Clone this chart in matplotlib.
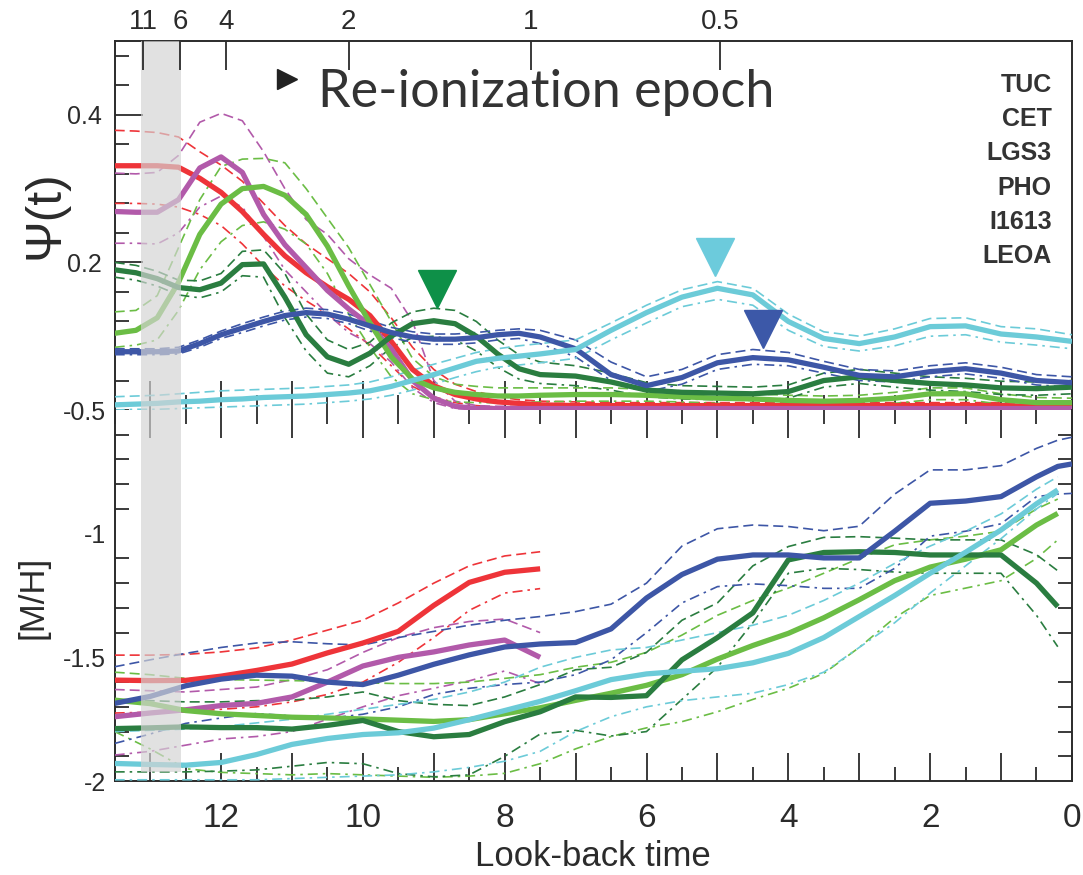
import matplotlib
matplotlib.use("Agg")
import matplotlib.pyplot as plt
from matplotlib.ticker import MultipleLocator, FixedLocator, FuncFormatter, NullLocator

plt.rcParams['font.family'] = ['Liberation Sans', 'DejaVu Sans']
plt.rcParams['axes.unicode_minus'] = False

# ---------------- data ----------------
names = ["TUC", "CET", "LGS3", "PHO", "I1613", "LEOA"]
colors = ['#ee3439', '#b25aaa', '#6bbd45', '#2a7d40', '#3d56a6', '#6ccbd8']

# redshift axis on top
z_label = ["11", "6", "4", "2", "1", "0.5"]
z_time = [13.1, 12.58, 11.93, 10.2, 7.63, 4.96]

# re-ionization band (look-back time, Gyr)
band_lo, band_hi = 12.565, 13.13

# grid of look-back time for Psi(t)
T_psi = [13.5, 13.2, 12.9, 12.6, 12.3, 12.0, 11.7, 11.4, 11.1, 10.8, 10.5,
         10.2, 9.9, 9.6, 9.3, 9.0, 8.7, 8.4, 8.1, 7.8, 7.5,
         7.0, 6.5, 6.0, 5.5, 5.0, 4.5, 4.0, 3.5, 3.0, 2.5, 2.0, 1.5, 1.0, 0.5, 0.0]

psi_tuc = [0.331, 0.331, 0.331, 0.329, 0.314, 0.295, 0.269, 0.238, 0.209, 0.186, 0.167,
           0.150, 0.128, 0.093, 0.055, 0.033, 0.021, 0.015, 0.011, 0.009, 0.007,
           0.006, 0.006, 0.006, 0.006, 0.006, 0.006, 0.006, 0.006, 0.006, 0.006, 0.006, 0.006, 0.006, 0.005, 0.005]
psi_tuc_hi = [0.379, 0.378, 0.376, 0.370, 0.350, 0.332, 0.310, 0.280, 0.250, 0.225, 0.205,
              0.185, 0.160, 0.125, 0.085, 0.055, 0.035, 0.025, 0.018, 0.014, 0.012,
              0.011, 0.010, 0.010, 0.010, 0.010, 0.010, 0.010, 0.010, 0.010, 0.010, 0.010, 0.010, 0.010, 0.009, 0.009]
psi_tuc_lo = [0.280, 0.280, 0.279, 0.275, 0.265, 0.250, 0.225, 0.195, 0.168, 0.148, 0.130,
              0.110, 0.088, 0.060, 0.032, 0.018, 0.010, 0.006, 0.004, 0.003, 0.002,
              0.002, 0.002, 0.002, 0.002, 0.002, 0.002, 0.002, 0.002, 0.002, 0.002, 0.002, 0.002, 0.002, 0.002, 0.002]

psi_cet = [0.269, 0.268, 0.268, 0.285, 0.328, 0.343, 0.322, 0.265, 0.224, 0.193, 0.162,
           0.137, 0.115, 0.083, 0.040, 0.016, 0.005, 0.002, 0.002, 0.002, 0.002,
           0.002, 0.002, 0.002, 0.002, 0.002, 0.002, 0.002, 0.002, 0.002, 0.002, 0.002, 0.002, 0.002, 0.002, 0.002]
psi_cet_hi = [0.321, 0.320, 0.322, 0.345, 0.390, 0.402, 0.392, 0.350, 0.300, 0.258, 0.238,
              0.205, 0.183, 0.165, 0.120, 0.040, 0.012, 0.006, 0.005, 0.005, 0.005,
              0.005, 0.005, 0.005, 0.005, 0.005, 0.005, 0.005, 0.005, 0.005, 0.005, 0.005, 0.005, 0.005, 0.005, 0.005]
psi_cet_lo = [0.226, 0.226, 0.225, 0.240, 0.275, 0.290, 0.275, 0.235, 0.190, 0.160, 0.130,
              0.105, 0.090, 0.065, 0.030, 0.010, 0.002, 0.001, 0.001, 0.001, 0.001,
              0.001, 0.001, 0.001, 0.001, 0.001, 0.001, 0.001, 0.001, 0.001, 0.001, 0.001, 0.001, 0.001, 0.001, 0.001]

psi_lgs3 = [0.104, 0.108, 0.125, 0.173, 0.238, 0.279, 0.300, 0.303, 0.291, 0.265, 0.222,
            0.168, 0.118, 0.072, 0.042, 0.030, 0.024, 0.021, 0.019, 0.019, 0.020,
            0.021, 0.021, 0.020, 0.018, 0.016, 0.015, 0.013, 0.012, 0.013, 0.016, 0.022, 0.022, 0.014, 0.010, 0.010]
psi_lgs3_hi = [0.133, 0.135, 0.155, 0.220, 0.285, 0.330, 0.340, 0.341, 0.335, 0.300, 0.260,
               0.220, 0.170, 0.120, 0.070, 0.045, 0.035, 0.032, 0.030, 0.030, 0.030,
               0.030, 0.030, 0.028, 0.026, 0.024, 0.022, 0.020, 0.019, 0.020, 0.024, 0.030, 0.030, 0.022, 0.017, 0.016]
psi_lgs3_lo = [0.085, 0.088, 0.095, 0.135, 0.190, 0.228, 0.250, 0.255, 0.245, 0.225, 0.185,
               0.130, 0.085, 0.045, 0.022, 0.014, 0.011, 0.010, 0.010, 0.010, 0.011,
               0.012, 0.012, 0.012, 0.011, 0.009, 0.008, 0.007, 0.006, 0.007, 0.009, 0.014, 0.014, 0.008, 0.005, 0.005]

psi_pho = [0.190, 0.186, 0.178, 0.166, 0.163, 0.172, 0.197, 0.198, 0.153, 0.102, 0.072,
           0.062, 0.077, 0.100, 0.117, 0.121, 0.117, 0.100, 0.076, 0.056, 0.048,
           0.046, 0.038, 0.027, 0.024, 0.023, 0.022, 0.025, 0.040, 0.045, 0.040, 0.036, 0.034, 0.030, 0.029, 0.031]
psi_pho_hi = [0.200, 0.196, 0.188, 0.176, 0.175, 0.185, 0.215, 0.217, 0.185, 0.130, 0.095,
              0.082, 0.092, 0.118, 0.133, 0.138, 0.135, 0.120, 0.095, 0.075, 0.065,
              0.060, 0.050, 0.037, 0.033, 0.032, 0.031, 0.034, 0.050, 0.055, 0.050, 0.045, 0.043, 0.039, 0.038, 0.040]
psi_pho_lo = [0.180, 0.176, 0.168, 0.156, 0.152, 0.160, 0.182, 0.180, 0.125, 0.080, 0.050,
              0.045, 0.060, 0.085, 0.098, 0.100, 0.095, 0.080, 0.058, 0.042, 0.036,
              0.033, 0.027, 0.018, 0.015, 0.014, 0.013, 0.016, 0.031, 0.036, 0.031, 0.027, 0.025, 0.021, 0.020, 0.022]

psi_i1613 = [0.079, 0.079, 0.079, 0.080, 0.090, 0.102, 0.111, 0.120, 0.128, 0.132, 0.130,
             0.123, 0.114, 0.105, 0.099, 0.096, 0.096, 0.098, 0.102, 0.104, 0.099,
             0.083, 0.048, 0.033, 0.044, 0.064, 0.071, 0.068, 0.058, 0.047, 0.045, 0.052, 0.056, 0.050, 0.040, 0.037]
psi_i1613_hi = [0.083, 0.083, 0.083, 0.085, 0.095, 0.107, 0.117, 0.126, 0.134, 0.138, 0.136,
                0.130, 0.121, 0.112, 0.106, 0.103, 0.103, 0.105, 0.108, 0.110, 0.108,
                0.095, 0.065, 0.045, 0.055, 0.075, 0.082, 0.078, 0.066, 0.055, 0.053, 0.060, 0.064, 0.058, 0.048, 0.045]
psi_i1613_lo = [0.075, 0.075, 0.075, 0.076, 0.085, 0.097, 0.105, 0.114, 0.122, 0.126, 0.124,
                0.117, 0.107, 0.098, 0.092, 0.089, 0.089, 0.091, 0.095, 0.097, 0.090,
                0.072, 0.040, 0.025, 0.035, 0.055, 0.062, 0.060, 0.050, 0.040, 0.038, 0.045, 0.049, 0.043, 0.034, 0.031]

psi_leoa = [0.007, 0.008, 0.009, 0.011, 0.012, 0.014, 0.015, 0.017, 0.018, 0.019, 0.021,
            0.023, 0.026, 0.032, 0.040, 0.048, 0.057, 0.066, 0.070, 0.073, 0.076,
            0.082, 0.108, 0.132, 0.153, 0.165, 0.156, 0.120, 0.097, 0.090, 0.099, 0.113, 0.114, 0.103, 0.099, 0.093]
psi_leoa_hi = [0.018, 0.019, 0.020, 0.022, 0.024, 0.026, 0.027, 0.028, 0.029, 0.030, 0.032,
               0.034, 0.038, 0.045, 0.054, 0.062, 0.070, 0.078, 0.083, 0.087, 0.090,
               0.095, 0.118, 0.142, 0.163, 0.174, 0.165, 0.130, 0.106, 0.100, 0.110, 0.124, 0.125, 0.113, 0.110, 0.102]
psi_leoa_lo = [0.000, 0.001, 0.001, 0.002, 0.003, 0.004, 0.005, 0.006, 0.007, 0.008, 0.010,
               0.012, 0.015, 0.020, 0.027, 0.035, 0.044, 0.052, 0.058, 0.061, 0.064,
               0.070, 0.095, 0.118, 0.140, 0.150, 0.142, 0.108, 0.086, 0.080, 0.087, 0.100, 0.102, 0.092, 0.088, 0.083]

# triangles marking the SFR peaks (PHO, LEOA, I1613)
peak_t = [8.95, 5.03, 4.36]
peak_psi = [0.164, 0.208, 0.110]
peak_col = ['#0e9048', '#6ccbdc', '#3c58a8']

# grid of look-back time for [M/H]
T_mh = [13.5, 13.0, 12.5, 12.0, 11.5, 11.0, 10.5, 10.0, 9.5, 9.0, 8.5, 8.0, 7.5,
        7.0, 6.5, 6.0, 5.5, 5.0, 4.5, 4.0, 3.5, 3.0, 2.5, 2.0, 1.5, 1.0, 0.5, 0.2, 0.0]

mh_tuc = [-1.592, -1.594, -1.593, -1.576, -1.553, -1.527, -1.482, -1.442, -1.395, -1.290, -1.197, -1.156, -1.142]
mh_tuc_hi = [-1.491, -1.491, -1.488, -1.478, -1.462, -1.430, -1.390, -1.350, -1.280, -1.200, -1.130, -1.090, -1.073]
mh_tuc_lo = [-1.725, -1.722, -1.720, -1.710, -1.700, -1.680, -1.650, -1.600, -1.520, -1.420, -1.310, -1.240, -1.222]

mh_cet = [-1.740, -1.725, -1.712, -1.695, -1.686, -1.660, -1.600, -1.535, -1.500, -1.478, -1.450, -1.430, -1.500]
mh_cet_hi = [-1.630, -1.635, -1.640, -1.630, -1.620, -1.590, -1.550, -1.480, -1.420, -1.380, -1.355, -1.345, -1.400]
mh_cet_lo = [-1.895, -1.880, -1.855, -1.830, -1.820, -1.800, -1.750, -1.700, -1.655, -1.625, -1.595, -1.555, -1.606]

mh_lgs3 = [-1.673, -1.687, -1.715, -1.728, -1.735, -1.742, -1.745, -1.749, -1.754, -1.759, -1.752, -1.728, -1.704,
           -1.674, -1.645, -1.613, -1.570, -1.507, -1.452, -1.403, -1.340, -1.267, -1.190, -1.135, -1.103, -1.065, -0.965, -0.918]
mh_lgs3_hi = [-1.560, -1.570, -1.585, -1.590, -1.592, -1.594, -1.597, -1.603, -1.606, -1.606, -1.600, -1.585, -1.570,
              -1.540, -1.520, -1.480, -1.410, -1.330, -1.270, -1.220, -1.160, -1.100, -1.045, -1.025, -1.010, -0.990, -0.900, -0.860]
mh_lgs3_lo = [-1.800, -1.870, -1.950, -1.965, -1.970, -1.975, -1.970, -1.975, -1.980, -1.985, -1.980, -1.969, -1.930,
              -1.870, -1.820, -1.785, -1.760, -1.720, -1.670, -1.625, -1.565, -1.460, -1.340, -1.250, -1.220, -1.190, -1.100, -1.025]

mh_pho = [-1.788, -1.785, -1.781, -1.784, -1.784, -1.790, -1.775, -1.755, -1.800, -1.821, -1.812, -1.760, -1.720,
          -1.660, -1.662, -1.655, -1.510, -1.420, -1.320, -1.106, -1.076, -1.073, -1.076, -1.086, -1.086, -1.086, -1.200, -1.295]
mh_pho_hi = [-1.673, -1.675, -1.680, -1.680, -1.675, -1.673, -1.660, -1.640, -1.675, -1.690, -1.695, -1.660, -1.610,
             -1.550, -1.540, -1.480, -1.350, -1.280, -1.130, -1.052, -1.015, -1.012, -1.018, -1.025, -1.025, -1.025, -1.085, -1.150]
mh_pho_lo = [-1.963, -1.963, -1.963, -1.960, -1.955, -1.940, -1.925, -1.930, -1.970, -1.983, -1.975, -1.900, -1.810,
             -1.795, -1.818, -1.800, -1.670, -1.540, -1.360, -1.160, -1.140, -1.145, -1.155, -1.160, -1.160, -1.160, -1.330, -1.457]

mh_i1613 = [-1.686, -1.658, -1.615, -1.588, -1.572, -1.576, -1.600, -1.610, -1.572, -1.528, -1.490, -1.458, -1.446,
            -1.440, -1.385, -1.260, -1.165, -1.103, -1.086, -1.086, -1.098, -1.098, -0.990, -0.877, -0.868, -0.850, -0.770, -0.728, -0.718]
mh_i1613_hi = [-1.538, -1.510, -1.484, -1.460, -1.442, -1.437, -1.445, -1.450, -1.420, -1.395, -1.370, -1.350, -1.335,
               -1.315, -1.285, -1.200, -1.050, -0.980, -0.965, -0.971, -0.988, -0.970, -0.840, -0.742, -0.742, -0.725, -0.655, -0.622, -0.610]
mh_i1613_lo = [-1.848, -1.810, -1.767, -1.745, -1.727, -1.737, -1.747, -1.730, -1.700, -1.650, -1.625, -1.610, -1.600,
               -1.570, -1.510, -1.400, -1.280, -1.214, -1.203, -1.210, -1.221, -1.221, -1.140, -1.010, -0.990, -0.960, -0.850, -0.840, -0.837]

mh_leoa = [-1.929, -1.933, -1.936, -1.925, -1.893, -1.852, -1.828, -1.812, -1.805, -1.786, -1.752, -1.715, -1.678,
           -1.635, -1.590, -1.567, -1.556, -1.546, -1.522, -1.484, -1.420, -1.335, -1.250, -1.160, -1.075, -0.985, -0.879, -0.823]
mh_leoa_hi = [-1.800, -1.795, -1.790, -1.780, -1.765, -1.750, -1.730, -1.710, -1.690, -1.670, -1.640, -1.600, -1.540,
              -1.500, -1.470, -1.460, -1.430, -1.400, -1.370, -1.330, -1.270, -1.200, -1.120, -1.050, -0.990, -0.920, -0.820, -0.770]
mh_leoa_lo = [-1.995, -1.995, -1.995, -1.995, -1.995, -1.990, -1.985, -1.980, -1.975, -1.963, -1.945, -1.920, -1.880,
              -1.800, -1.740, -1.700, -1.675, -1.660, -1.645, -1.610, -1.560, -1.460, -1.360, -1.240, -1.130, -1.020, -0.900, -0.837]

psi_sets = [(psi_tuc, psi_tuc_hi, psi_tuc_lo), (psi_cet, psi_cet_hi, psi_cet_lo),
            (psi_lgs3, psi_lgs3_hi, psi_lgs3_lo), (psi_pho, psi_pho_hi, psi_pho_lo),
            (psi_i1613, psi_i1613_hi, psi_i1613_lo), (psi_leoa, psi_leoa_hi, psi_leoa_lo)]
mh_sets = [(mh_tuc, mh_tuc_hi, mh_tuc_lo), (mh_cet, mh_cet_hi, mh_cet_lo),
           (mh_lgs3, mh_lgs3_hi, mh_lgs3_lo), (mh_pho, mh_pho_hi, mh_pho_lo),
           (mh_i1613, mh_i1613_hi, mh_i1613_lo), (mh_leoa, mh_leoa_hi, mh_leoa_lo)]

# ---------------- figure ----------------
ink = '#2b2b2b'
fig = plt.figure(figsize=(10.83, 8.75), dpi=100)
ax1 = fig.add_axes([0.1059, 0.5314, 0.8839, 0.4217])
ax2 = fig.add_axes([0.1059, 0.1074, 0.8839, 0.4240])


def draw(ax, t, mean, hi, lo, col):
    n = len(mean)
    ax.plot(t[:n], hi, color=col, lw=1.2, ls=(0, (6, 3)), zorder=3)
    ax.plot(t[:n], lo, color=col, lw=1.2, ls=(0, (6, 3, 1.5, 3)), zorder=3)
    ax.plot(t[:n], mean, color=col, lw=3.8, solid_capstyle='butt',
            solid_joinstyle='round', zorder=5)


for (m, h, l), c in zip(psi_sets, colors):
    draw(ax1, T_psi, m, h, l, c)
for (m, h, l), c in zip(mh_sets, colors):
    draw(ax2, T_mh, m, h, l, c)

for t, p, c in zip(peak_t, peak_psi, peak_col):
    ax1.plot([t], [p], marker='v', ms=27, color=c, ls='none', zorder=12)

# re-ionization band (drawn over the lines, semi transparent)
ax1.axvspan(band_lo, band_hi, color='#d4d4d4', alpha=0.68, lw=0, zorder=10)
ax2.axvspan(band_lo, band_hi, ymin=0.024, color='#d4d4d4', alpha=0.68, lw=0, zorder=10)

# ---- top panel axes ----
ax1.set_xlim(13.5, 0)
ax1.set_ylim(0, 0.5)
ax1.spines['bottom'].set_visible(False)
for s in ax1.spines.values():
    s.set_linewidth(1.4)
    s.set_color(ink)
ax1.xaxis.set_major_locator(MultipleLocator(1))
ax1.xaxis.set_minor_locator(MultipleLocator(0.5))
ax1.tick_params(axis='x', which='major', direction='in', length=21, width=1.3, color=ink,
                bottom=True, top=False, labelbottom=False)
ax1.tick_params(axis='x', which='minor', direction='in', length=11, width=1.3, color=ink,
                bottom=True, top=False)
ax1.yaxis.set_major_locator(FixedLocator([0.2, 0.4]))
ax1.yaxis.set_minor_locator(MultipleLocator(0.04))
ax1.tick_params(axis='y', which='major', direction='in', length=20, width=1.3, color=ink,
                left=True, right=False, labelsize=18, pad=9, labelcolor=ink)
ax1.tick_params(axis='y', which='minor', direction='in', length=10, width=1.3, color=ink,
                left=True, right=False)

axz = ax1.twiny()
axz.set_xlim(13.5, 0)
axz.set_xticks(z_time)
axz.set_xticklabels(z_label)
axz.xaxis.set_minor_locator(NullLocator())
axz.tick_params(axis='x', direction='in', length=21, width=1.3, color=ink, labelsize=20,
                pad=4, labelcolor=ink)
for s in axz.spines.values():
    s.set_visible(False)

# ---- bottom panel axes ----
ax2.set_xlim(13.5, 0)
ax2.set_ylim(-2, -0.5)
ax2.spines['top'].set_visible(False)
for s in ax2.spines.values():
    s.set_linewidth(1.4)
    s.set_color(ink)
ax2.xaxis.set_major_locator(MultipleLocator(1))
ax2.xaxis.set_minor_locator(MultipleLocator(0.5))
ax2.xaxis.set_major_formatter(FuncFormatter(lambda v, p: '%d' % round(v) if round(v) % 2 == 0 else ''))
ax2.tick_params(axis='x', which='major', direction='in', length=20, width=1.3, color=ink,
                bottom=True, top=True, labelsize=24, pad=16, labelcolor=ink)
ax2.tick_params(axis='x', which='minor', direction='in', length=10, width=1.3, color=ink,
                bottom=True, top=True)
ax2.yaxis.set_major_locator(FixedLocator([-2, -1.5, -1, -0.5]))
ax2.yaxis.set_major_formatter(FuncFormatter(lambda v, p: '%g' % v))
ax2.yaxis.set_minor_locator(MultipleLocator(0.1))
ax2.tick_params(axis='y', which='major', direction='in', length=0, left=True, right=True,
                labelsize=18, pad=6, labelcolor=ink)
ax2.tick_params(axis='y', which='minor', direction='in', length=10, width=1.3, color=ink,
                left=True, right=True)

# ---- labels and annotations ----
for i, name in enumerate(names):
    ax1.text(0.979, 0.881 - 0.0928 * i, name, transform=ax1.transAxes, ha='right',
             va='center', fontsize=18, fontweight='bold', color='#333333')

ax1.plot([0.18], [0.897], marker='>', ms=15, color='#222222', transform=ax1.transAxes,
         clip_on=False, zorder=12)
ax1.text(0.2124, 0.821, 'Re-ionization epoch', transform=ax1.transAxes, ha='left',
         va='baseline', fontsize=37.5, family=['Lato', 'DejaVu Sans'], fontweight='normal',
         color='#333333')

fig.text(45 / 1083, 1 - 215 / 875, 'Ψ(t)', rotation=90, ha='center', va='center',
         fontsize=36, color=ink)
fig.text(33 / 1083, 1 - 597 / 875, '[M/H]', rotation=90, ha='center', va='center',
         fontsize=25, color=ink)
fig.text(593 / 1083, 1 - 857 / 875, 'Look-back time', ha='center', va='center',
         fontsize=25, color=ink)

fig.savefig("out.png", dpi=100)
